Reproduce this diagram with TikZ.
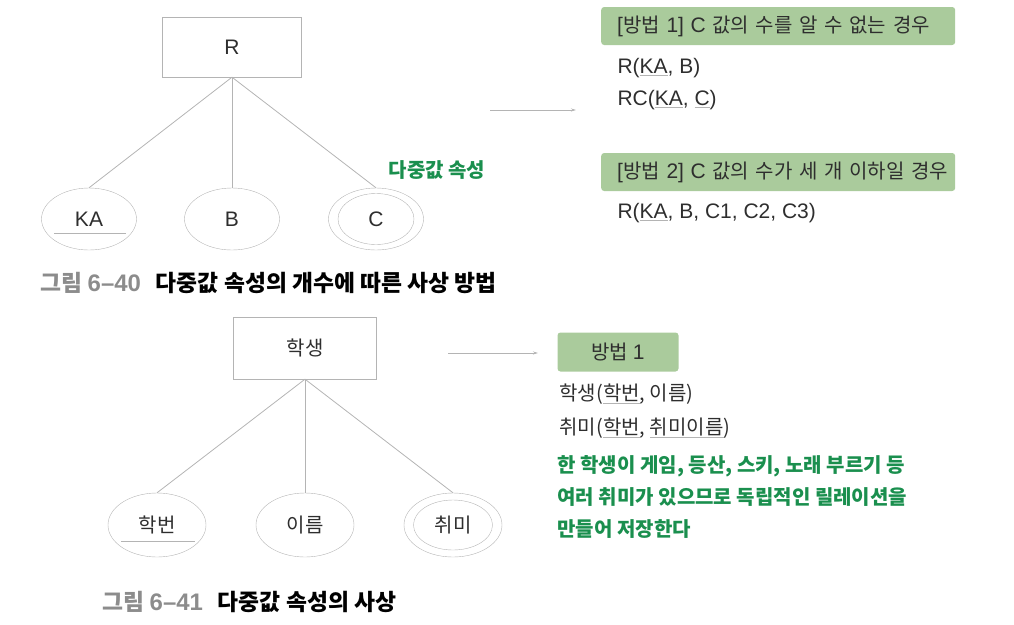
\documentclass[tikz,border=0pt]{standalone}
\usepackage{fontspec}
\setmainfont{Noto Sans CJK KR}
\newfontfamily\latf[Scale=1.05]{Liberation Sans}
\usetikzlibrary{arrows.meta,shapes.geometric}
\definecolor{boxgreen}{HTML}{AACB9C}
\definecolor{txtgreen}{HTML}{1A8F4E}
\definecolor{linegray}{HTML}{B4B4B4}
\definecolor{txtgray}{HTML}{2E2E2E}
\definecolor{capgray}{HTML}{8C8C8C}
\newcommand{\keyu}[1]{{\color{linegray}\underline{\color{txtgray}#1}}}
\newcommand{\lt}[1]{{\latf #1}}

\begin{document}
\begin{tikzpicture}[x=1pt,y=-1pt,
  every node/.style={text=txtgray,font=\fontsize{20}{24}\selectfont},
  ent/.style={draw=linegray,fill=white,minimum width=139pt,minimum height=60pt},
  attr/.style={ellipse,draw=linegray,minimum width=95pt,minimum height=62pt,inner sep=0pt},
  inattr/.style={ellipse,draw=linegray,minimum width=76pt,minimum height=51pt},
  way/.style={fill=boxgreen,rounded corners=3pt,anchor=west,inner xsep=16pt,minimum height=38pt,text width=322pt,align=left},
  conn/.style={draw=linegray,line width=0.8pt},
  maparrow/.style={conn,-{Stealth[length=5pt,width=3pt]}},
  note/.style={text=txtgreen,font=\fontsize{20}{32}\selectfont\bfseries,align=left,anchor=north west},
  figcap/.style={anchor=west,font=\fontsize{22.8}{26}\selectfont\bfseries,text=black}]
\useasboundingbox (0,0) rectangle (1014,624);

% [6-40]
\draw (232,47) node[ent] (R) {\lt{R}};
\draw (89,219) node[attr] (KA) {\lt{KA}} (232,219) node[attr] (B) {\lt{B}} (376,219) node[attr] (C) {\lt{C}};
\node[inattr] (Ci) at (C) {};
\draw[conn] (R.south)--(KA.north);
\draw[conn] (R.south)--(B.north);
\draw[conn] (R.south)--(C.north);
\draw[conn] ([xshift=-35pt,yshift=-14pt]KA.center)--([xshift=37pt,yshift=-14pt]KA.center);
\node[text=txtgreen,font=\fontsize{20}{24}\selectfont\bfseries] (multi) at (437,170) {다중값 속성};

\coordinate (A0) at (490,110);
\coordinate (A1) at (576,110);
\draw[maparrow] (A0)--(A1);

\node[way] (W1) at (601,26) {\mbox{\lt{[}방법 \lt{1] C} 값의 수를 알 수 없는 경우}};
\node[anchor=west,font=\latf\fontsize{20}{24}\selectfont] (T1) at (614,68) {R(\keyu{KA}, B)};
\node[anchor=west,font=\latf\fontsize{20}{24}\selectfont] (T2) at (614,100) {RC(\keyu{KA}, \keyu{C})};
\node[way] (W2) at (601,172) {\mbox{\lt{[}방법 \lt{2] C} 값의 수가 세 개 이하일 경우}};
\node[anchor=west,font=\latf\fontsize{20}{24}\selectfont] (T3) at (614,213) {R(\keyu{KA}, B, C1, C2, C3)};

\node[figcap] (cap1) at (37,283) {\textcolor{capgray}{그림 {\latf\bfseries 6–40}}\hspace{15pt}다중값 속성의 개수에 따른 사상 방법};

% [6-41]
\draw (305,348) node[ent,minimum width=143pt,minimum height=62pt] (S) {학생};
\draw (157,525) node[attr,minimum width=98pt,minimum height=64pt] (SN) {학번} (305,525) node[attr,minimum width=98pt,minimum height=64pt] (NM) {이름} (453,525) node[attr,minimum width=98pt,minimum height=64pt] (HB) {취미};
\node[inattr,minimum width=79pt,minimum height=50pt] (HBi) at (HB) {};
\draw[conn] (S.south)--(SN.north);
\draw[conn] (S.south)--(NM.north);
\draw[conn] (S.south)--(HB.north);
\draw[conn] ([xshift=-36pt,yshift=-16pt]SN.center)--([xshift=38pt,yshift=-16pt]SN.center);

\coordinate (B0) at (448,353);
\coordinate (B1) at (538,353);
\draw[maparrow] (B0)--(B1);

\node[fill=boxgreen,rounded corners=3pt,minimum width=121pt,minimum height=39pt] (W3) at (618,352) {방법 \lt{1}};
\node[anchor=west] (T4) at (556,394) {학생(\keyu{학번}, 이름)};
\node[anchor=west] (T5) at (556,428) {취미(\keyu{학번}, \keyu{취미이름})};
\node[note] (N1) at (554,452) {한 학생이 게임, 등산, 스키, 노래 부르기 등\\여러 취미가 있으므로 독립적인 릴레이션을\\만들어 저장한다};

\node[figcap] (cap2) at (99,602) {\textcolor{capgray}{그림 {\latf\bfseries 6–41}}\hspace{15pt}다중값 속성의 사상};
\end{tikzpicture}
\end{document}
